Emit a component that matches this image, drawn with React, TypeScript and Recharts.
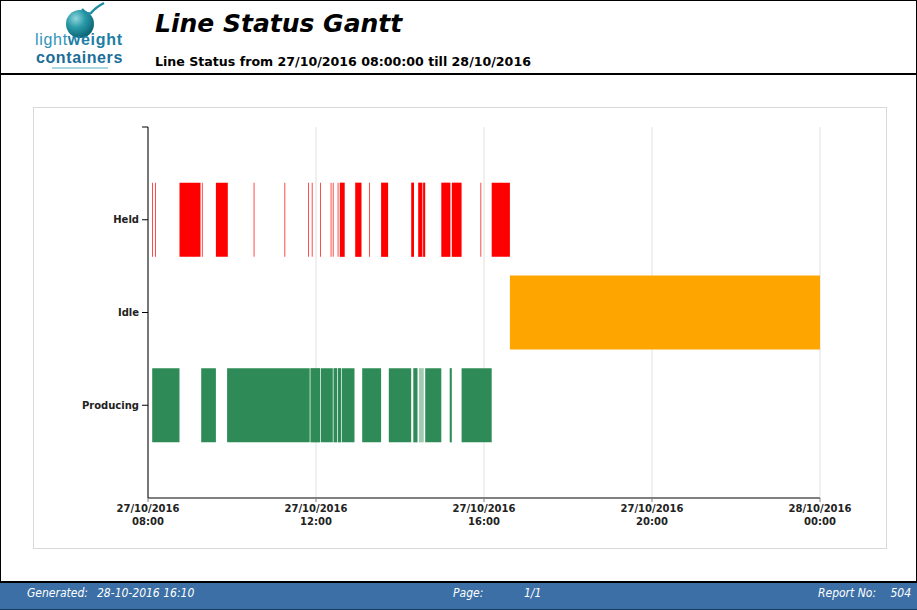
import { ComposedChart, XAxis, YAxis, CartesianGrid, ReferenceArea } from 'recharts';

// status segments, start / end as clock time on 27/10/2016 ("24:00" = midnight)
const HELD: [string, string][] = [
  ['08:06', '08:07'], ['08:10', '08:11'], ['08:45', '09:15'], ['09:17', '09:18'],
  ['09:37', '09:54'], ['10:31', '10:32'], ['11:15', '11:16'], ['11:49', '11:50'],
  ['11:54', '11:55'], ['12:06', '12:07'], ['12:21', '12:22'], ['12:24', '12:25'],
  ['12:31', '12:32'], ['12:34', '12:41'], ['12:56', '13:05'], ['13:16', '13:17'],
  ['13:33', '13:43'], ['14:16', '14:20'], ['14:26', '14:32'], ['14:33', '14:36'],
  ['14:59', '15:12'], ['15:14', '15:28'], ['15:55', '15:56'], ['16:11', '16:37'],
];
const IDLE: [string, string][] = [['16:37', '24:00']];
const PRODUCING: [string, string][] = [
  ['08:06', '08:45'], ['09:16', '09:37'], ['09:53', '11:51'], ['11:52', '12:06'],
  ['12:07', '12:24'], ['12:25', '12:30'], ['12:31', '12:36'], ['12:37', '12:55'],
  ['13:06', '13:33'], ['13:44', '14:16'], ['14:19', '14:25'], ['14:36', '14:59'],
  ['15:11', '15:14'], ['15:28', '16:11'],
];
// short producing run drawn paler in the report
const PRODUCING_PARTIAL: [string, string][] = [['14:27', '14:34']];

const ROW_LABELS = ['Producing', 'Idle', 'Held'];
const X_TICKS = [8, 12, 16, 20, 24];
const X_TICK_DATES = ['27/10/2016', '27/10/2016', '27/10/2016', '27/10/2016', '28/10/2016'];
const X_TICK_TIMES = ['08:00', '12:00', '16:00', '20:00', '00:00'];

const toHours = (t: string) => {
  const [h, m] = t.split(':').map(Number);
  return h + m / 60;
};

const FONT = "'DejaVu Sans', Verdana, sans-serif";
const FOOT_FONT = "'Liberation Sans Narrow', 'DejaVu Sans Condensed', sans-serif";
const LOGO_FONT = "'Liberation Sans', Arial, sans-serif";

const XTick = (props: any) => {
  const { x, y, payload } = props;
  const i = X_TICKS.indexOf(payload.value);
  return (
    <text x={x} y={y} textAnchor="middle" fontFamily={FONT} fontWeight="bold" fontSize={10} fill="#222">
      <tspan x={x} dy={8}>{X_TICK_DATES[i]}</tspan>
      <tspan x={x} dy={13}>{X_TICK_TIMES[i]}</tspan>
    </text>
  );
};

function bars(list: [string, string][], row: number, color: string, opacity = 1) {
  return list.map(([s, e], i) => (
    <ReferenceArea
      key={`${row}-${color}-${i}`}
      x1={toHours(s)}
      x2={toHours(e)}
      y1={row - 0.4}
      y2={row + 0.4}
      fill={color}
      fillOpacity={opacity}
      stroke="none"
      ifOverflow="visible"
    />
  ));
}

function Logo() {
  return (
    <svg width={140} height={72} style={{ position: 'absolute', left: 0, top: 0 }}>
      <defs>
        <radialGradient id="ball" cx="35%" cy="30%" r="75%">
          <stop offset="0%" stopColor="#8fd6dc" />
          <stop offset="45%" stopColor="#2a9aa8" />
          <stop offset="100%" stopColor="#0a5f70" />
        </radialGradient>
      </defs>
      <circle cx={80} cy={24} r={14} fill="url(#ball)" />
      <path d="M82 9 Q87 15 91 13 Q96 7 104 3" stroke="#1f8ea0" strokeWidth={2.5} fill="none" />
      <text x={35} y={45} fontFamily={LOGO_FONT} fontSize={16} letterSpacing={0.7} fill="#2f93b8">
        light<tspan fontWeight="bold" fill="#1d7ea6">weight</tspan>
      </text>
      <text x={36} y={63} fontFamily={LOGO_FONT} fontSize={16} letterSpacing={0.6} fontWeight="bold" fill="#1b6d98">
        containers
      </text>
      <line x1={52} y1={68} x2={108} y2={68} stroke="#8ccad6" strokeWidth={1.5} />
    </svg>
  );
}

export default function App() {
  return (
    <div style={{ position: 'absolute', left: 0, top: 0, width: 917, height: 610, background: '#fff', overflow: 'hidden' }}>
      {/* frame */}
      <div style={{ position: 'absolute', left: 0, top: 0, width: 915, height: 72, border: '1px solid #000', borderBottom: '2px solid #000' }} />
      <div style={{ position: 'absolute', left: 0, top: 74, width: 0, height: 508, borderLeft: '1px solid #000' }} />
      <div style={{ position: 'absolute', left: 916, top: 74, width: 0, height: 508, borderLeft: '1px solid #000' }} />
      <Logo />
      <div style={{ position: 'absolute', left: 155, top: 9, fontFamily: FONT, fontSize: 25, fontWeight: 'bold', fontStyle: 'italic', color: '#000' }}>
        Line Status Gantt
      </div>
      <div style={{ position: 'absolute', left: 155, top: 54, fontFamily: FONT, fontSize: 12.6, fontWeight: 'bold', color: '#000' }}>
        Line Status from 27/10/2016 08:00:00 till 28/10/2016
      </div>

      {/* chart panel */}
      <div style={{ position: 'absolute', left: 33, top: 107, width: 852, height: 440, border: '1px solid #d9d9d9' }}>
        <ComposedChart width={852} height={440} data={[]} margin={{ top: 19, right: 66, bottom: 0, left: 0 }}>
          <CartesianGrid vertical horizontal={false} stroke="#e0e0e0" />
          <XAxis
            type="number"
            dataKey="x"
            domain={[8, 24]}
            ticks={X_TICKS}
            height={50}
            tick={<XTick />}
            axisLine={{ stroke: '#808080', strokeWidth: 2 }}
            tickLine={{ stroke: '#808080' }}
            tickSize={4}
            allowDataOverflow
          />
          <YAxis
            type="number"
            domain={[0, 4]}
            ticks={[1, 2, 3, 4]}
            width={114}
            tickFormatter={(v: number) => ROW_LABELS[v - 1] ?? ''}
            tick={{ fontFamily: FONT, fontSize: 10, fontWeight: 'bold', fill: '#222' }}
            axisLine={{ stroke: '#000' }}
            tickLine={{ stroke: '#000' }}
            tickSize={6}
            tickMargin={3}
            allowDataOverflow
          />
          {bars(HELD, 3, '#ff0000')}
          {bars(IDLE, 2, '#ffa500')}
          {bars(PRODUCING, 1, '#2e8b57')}
          {bars(PRODUCING_PARTIAL, 1, '#2e8b57', 0.45)}
        </ComposedChart>
      </div>

      {/* footer */}
      <div style={{ position: 'absolute', left: 0, top: 581, width: 917, height: 2, background: '#000' }} />
      <div style={{ position: 'absolute', left: 0, top: 583, width: 917, height: 27, background: '#3b6fa6', borderBottom: '1px solid #1d3d60', boxSizing: 'border-box', color: '#fff', fontFamily: FOOT_FONT, fontStyle: 'italic', fontSize: 12 }}>
        <span style={{ position: 'absolute', left: 27, top: 3 }}>Generated:</span>
        <span style={{ position: 'absolute', left: 97, top: 3 }}>28-10-2016 16:10</span>
        <span style={{ position: 'absolute', left: 453, top: 3 }}>Page:</span>
        <span style={{ position: 'absolute', left: 524, top: 3 }}>1/1</span>
        <span style={{ position: 'absolute', left: 818, top: 3 }}>Report No:</span>
        <span style={{ position: 'absolute', right: 6, top: 3 }}>504</span>
      </div>
    </div>
  );
}
